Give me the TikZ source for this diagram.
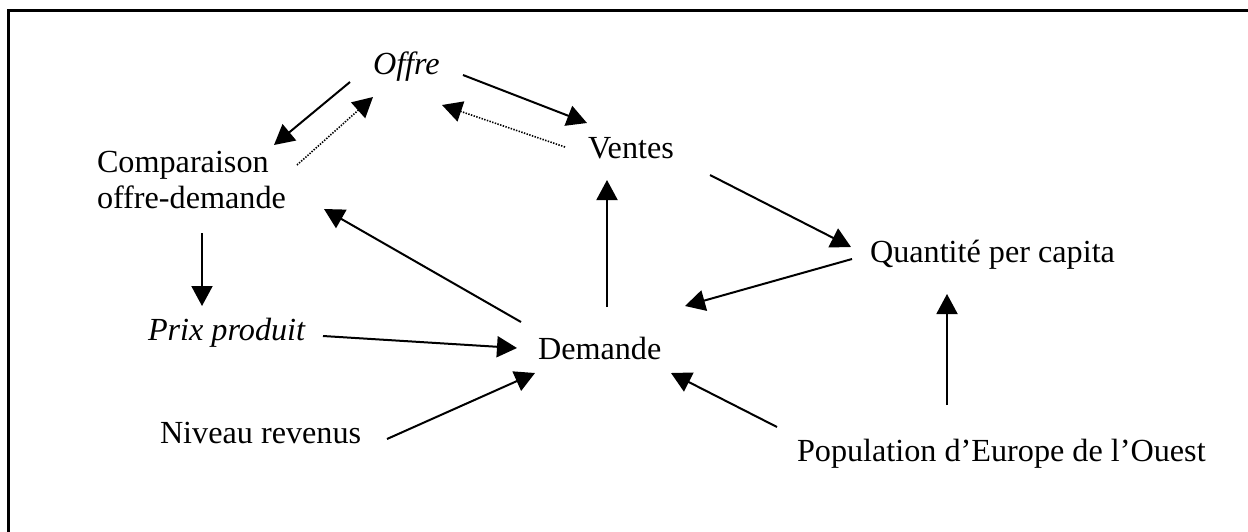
\documentclass[tikz,border=0pt]{standalone}
\usepackage{fontspec}
\setmainfont{Liberation Serif}
\usetikzlibrary{arrows.meta}
\begin{document}
\begin{tikzpicture}[x=0.5pt,y=-0.5pt,
  lbl/.style={inner sep=0pt,outer sep=0pt,anchor=base west,
    font=\fontsize{16.1pt}{18pt}\selectfont},
  ilbl/.style={lbl,font=\fontsize{16.1pt}{18pt}\selectfont\itshape},
  arr/.style={line width=1pt,-{Triangle[length=10pt,width=10.5pt]}},
  fb/.style={line width=0.8pt,dash pattern=on 0.7pt off 0.7pt,
    -{Triangle[length=10pt,width=10.5pt]}},
  frame/.style={line width=1.3pt}]
\useasboundingbox (0,0) rectangle (1248,531);

% open frame: top and left edges
\coordinate (fc) at (8.5,10.3);
\coordinate (fr) at (1250,10.3);
\coordinate (fbot) at (8.5,533);
\draw[frame] (fr) -- (fc) -- (fbot);

% variables (the two-line node sits on the baseline of its last line)
\node[ilbl] (offre) at (373,74) {Offre};
\node[lbl,align=left] (comp) at (97,208) {Comparaison\\offre-demande};
\node[lbl] (ventes) at (588,158) {Ventes};
\node[lbl] (quant) at (870,262) {Quantité per capita};
\node[ilbl] (prix) at (148,340) {Prix produit};
\node[lbl] (dem) at (538,359) {Demande};
\node[lbl] (niv) at (160,443) {Niveau revenus};
\node[lbl] (pop) at (797,461) {Population d’Europe de l’Ouest};

% influences
\draw[arr] ([shift={(-23,8)}]offre.base west) -- ([shift={(177,-63)}]comp.base west);
\draw[fb]  ([shift={(200,-43)}]comp.base west) -- ([shift={(0,23)}]offre.base west);
\draw[arr] ([shift={(90,1)}]offre.base west) -- ([shift={(-1,-35)}]ventes.base west);
\draw[fb]  ([shift={(-23,-11)}]ventes.base west) -- ([shift={(69,31)}]offre.base west);
\draw[arr] ([shift={(69,-52)}]dem.base west) -- ([shift={(19,22)}]ventes.base west);
\draw[arr] ([shift={(122,17)}]ventes.base west) -- ([shift={(-19,-15)}]quant.base west);
\draw[arr] ([shift={(-18,-3)}]quant.base west) -- ([shift={(147,-53)}]dem.base west);
\draw[arr] ([shift={(-17,-37)}]dem.base west) -- ([shift={(227,1)}]comp.base west);
\draw[arr] ([shift={(105,25)}]comp.base west) -- ([shift={(54,-34)}]prix.base west);
\draw[arr] ([shift={(175,-4)}]prix.base west) -- ([shift={(-21,-11)}]dem.base west);
\draw[arr] ([shift={(227,-4)}]niv.base west) -- ([shift={(-3,14)}]dem.base west);
\draw[arr] ([shift={(-20,-34)}]pop.base west) -- ([shift={(133,14)}]dem.base west);
\draw[arr] ([shift={(150,-56)}]pop.base west) -- ([shift={(77,32)}]quant.base west);
\end{tikzpicture}
\end{document}
